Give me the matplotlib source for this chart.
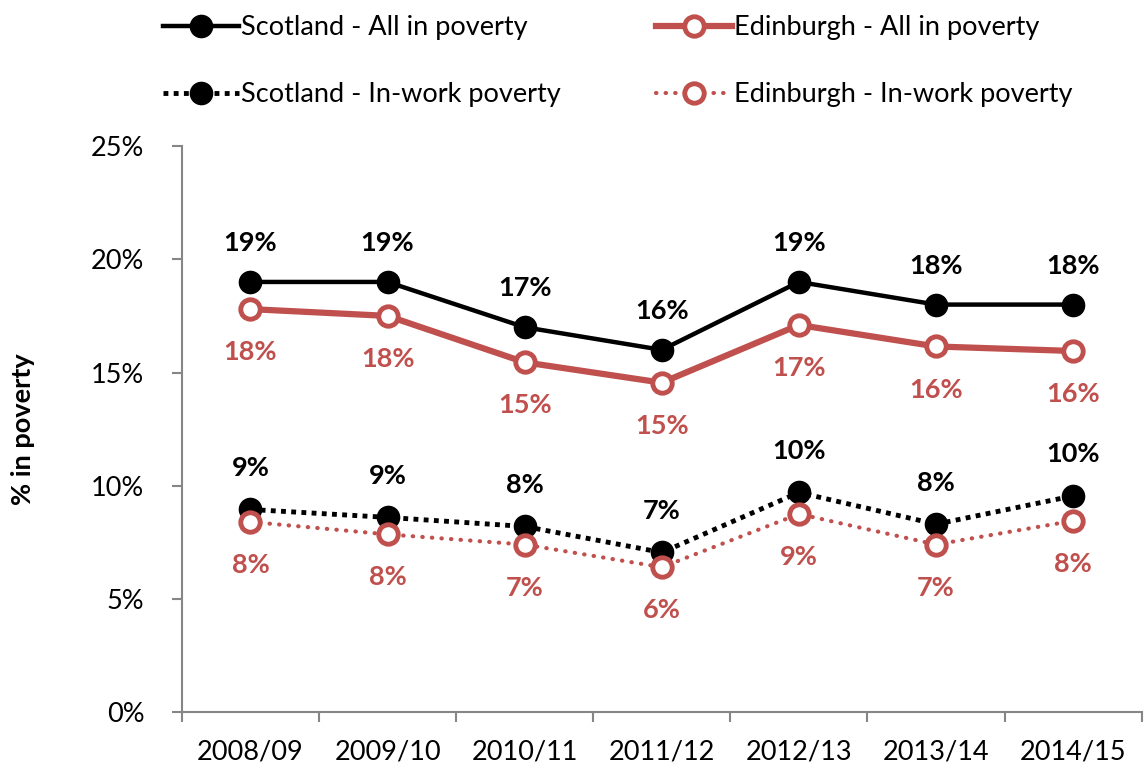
import matplotlib.pyplot as plt

plt.rcParams['font.family'] = ['Lato', 'DejaVu Sans']

years = ["2008/09", "2009/10", "2010/11", "2011/12", "2012/13", "2013/14", "2014/15"]

scot_all = [19.0, 19.0, 17.0, 16.0, 19.0, 18.0, 18.0]
edin_all = [17.8, 17.5, 15.45, 14.55, 17.1, 16.15, 15.95]
scot_work = [8.95, 8.6, 8.2, 7.05, 9.7, 8.3, 9.55]
edin_work = [8.4, 7.85, 7.4, 6.4, 8.75, 7.4, 8.45]

scot_all_lbl = ["19%", "19%", "17%", "16%", "19%", "18%", "18%"]
edin_all_lbl = ["18%", "18%", "15%", "15%", "17%", "16%", "16%"]
scot_work_lbl = ["9%", "9%", "8%", "7%", "10%", "8%", "10%"]
edin_work_lbl = ["8%", "8%", "7%", "6%", "9%", "7%", "8%"]

red = "#C0504D"
grey = "#868686"
fs = 19.5

fig = plt.figure(figsize=(11.44, 7.69), dpi=100)
ax = fig.add_axes([0.159, 0.074, 0.839, 0.736])
x = list(range(len(years)))

l1, = ax.plot(x, scot_all, "-", color="black", lw=3.2, marker="o", ms=16,
              mfc="black", mec="black", label="Scotland - All in poverty", zorder=4)
l2, = ax.plot(x, edin_all, "-", color=red, lw=4.5, marker="o", ms=14,
              mfc="white", mec=red, mew=3.5, label="Edinburgh - All in poverty", zorder=4)
l3, = ax.plot(x, scot_work, color="black", lw=3.5, ls=(0, (1, 1.1)), marker="o", ms=16,
              mfc="black", mec="black", label="Scotland - In-work poverty", zorder=3)
l4, = ax.plot(x, edin_work, color=red, lw=3, ls=(0, (0.1, 2.2)), dash_capstyle="round",
              marker="o", ms=14, mfc="white", mec=red, mew=3.5,
              label="Edinburgh - In-work poverty", zorder=4)

for i in x:
    ax.annotate(scot_all_lbl[i], (i, scot_all[i]), xytext=(0, 28), textcoords="offset points",
                ha="center", va="center", fontsize=fs, fontweight="bold", color="black")
    ax.annotate(edin_all_lbl[i], (i, edin_all[i]), xytext=(0, -31), textcoords="offset points",
                ha="center", va="center", fontsize=fs, fontweight="bold", color=red)
    ax.annotate(scot_work_lbl[i], (i, scot_work[i]), xytext=(0, 30), textcoords="offset points",
                ha="center", va="center", fontsize=fs, fontweight="bold", color="black")
    ax.annotate(edin_work_lbl[i], (i, edin_work[i]), xytext=(0, -31), textcoords="offset points",
                ha="center", va="center", fontsize=fs, fontweight="bold", color=red)

ax.set_xlim(-0.5, len(years) - 0.5)
ax.set_ylim(0, 25)
ax.set_yticks([0, 5, 10, 15, 20, 25])
ax.set_yticklabels(["0%", "5%", "10%", "15%", "20%", "25%"])
ax.set_xticks(x)
ax.set_xticklabels(years)
ax.set_xticks([i - 0.5 for i in range(len(years) + 1)], minor=True)
ax.tick_params(axis="x", which="major", length=0, pad=20, labelsize=fs)
ax.tick_params(axis="x", which="minor", length=7, color=grey, width=1.5)
ax.tick_params(axis="y", length=7, color=grey, width=1.5, pad=20, labelsize=fs)

for s in ["top", "right"]:
    ax.spines[s].set_visible(False)
for s in ["left", "bottom"]:
    ax.spines[s].set_color(grey)
    ax.spines[s].set_linewidth(1.5)

ax.set_ylabel("% in poverty", fontsize=fs, fontweight="bold", labelpad=40)

fig.legend(handles=[l1, l3, l2, l4], ncol=2, loc="upper left", bbox_to_anchor=(0.121, 1.012),
           frameon=False, fontsize=fs, handlelength=2.8, handletextpad=0.1,
           columnspacing=3.5, labelspacing=1.55)

fig.savefig("out.png", dpi=100)
